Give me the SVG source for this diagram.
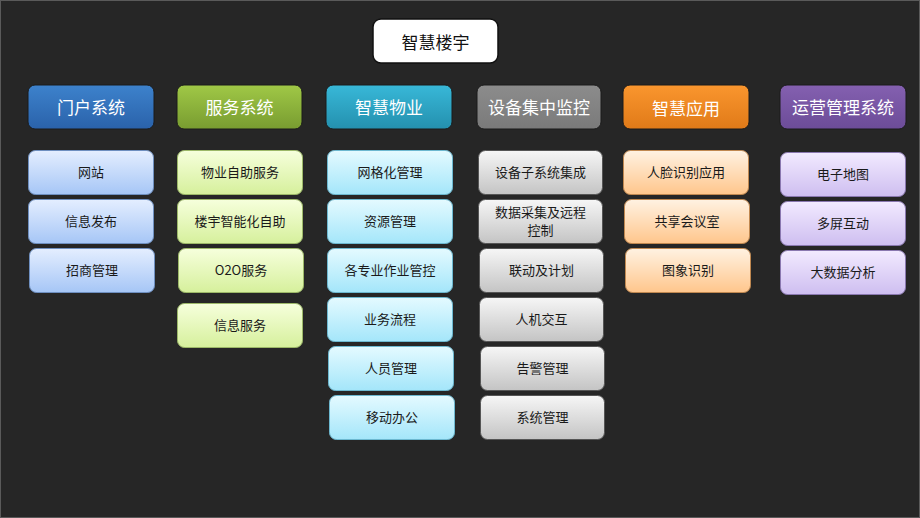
<svg xmlns="http://www.w3.org/2000/svg" width="920" height="518" viewBox="0 0 920 518">
<defs>
<linearGradient id="hBlue" x1="0" y1="0" x2="0" y2="1"><stop offset="0" stop-color="#3d82cc"/><stop offset="1" stop-color="#2a62aa"/></linearGradient>
<linearGradient id="hGreen" x1="0" y1="0" x2="0" y2="1"><stop offset="0" stop-color="#a0c846"/><stop offset="1" stop-color="#789c30"/></linearGradient>
<linearGradient id="hCyan" x1="0" y1="0" x2="0" y2="1"><stop offset="0" stop-color="#38b8d8"/><stop offset="1" stop-color="#2490ae"/></linearGradient>
<linearGradient id="hGray" x1="0" y1="0" x2="0" y2="1"><stop offset="0" stop-color="#8c8c8c"/><stop offset="1" stop-color="#7a7a7a"/></linearGradient>
<linearGradient id="hOrange" x1="0" y1="0" x2="0" y2="1"><stop offset="0" stop-color="#fa962e"/><stop offset="1" stop-color="#e07a18"/></linearGradient>
<linearGradient id="hPurple" x1="0" y1="0" x2="0" y2="1"><stop offset="0" stop-color="#8460b0"/><stop offset="1" stop-color="#6c4c98"/></linearGradient>
<linearGradient id="cBlue" x1="0" y1="0" x2="0" y2="1"><stop offset="0" stop-color="#e4eeff"/><stop offset="1" stop-color="#a6c6f6"/></linearGradient>
<linearGradient id="cGreen" x1="0" y1="0" x2="0" y2="1"><stop offset="0" stop-color="#f6ffdc"/><stop offset="1" stop-color="#d6f09c"/></linearGradient>
<linearGradient id="cCyan" x1="0" y1="0" x2="0" y2="1"><stop offset="0" stop-color="#e4faff"/><stop offset="1" stop-color="#a4e6fa"/></linearGradient>
<linearGradient id="cGray" x1="0" y1="0" x2="0" y2="1"><stop offset="0" stop-color="#f6f6f6"/><stop offset="1" stop-color="#c4c4c4"/></linearGradient>
<linearGradient id="cOrange" x1="0" y1="0" x2="0" y2="1"><stop offset="0" stop-color="#fff2e2"/><stop offset="1" stop-color="#ffc68c"/></linearGradient>
<linearGradient id="cPurple" x1="0" y1="0" x2="0" y2="1"><stop offset="0" stop-color="#f2eaff"/><stop offset="1" stop-color="#cebef0"/></linearGradient>
</defs>
<style>
text{font-family:"Microsoft YaHei","Noto Sans CJK SC","Noto Sans",sans-serif;text-anchor:middle;dominant-baseline:central}
.h text{fill:#ffffff;font-size:17px}
.c text{fill:#1a1a1a;font-size:13px}
.h rect{stroke:#1a1a1a;stroke-width:1}
.c rect{stroke-width:1}
.b rect{fill:url(#cBlue);stroke:#6e8fc0}
.g rect{fill:url(#cGreen);stroke:#9cb868}
.y rect{fill:url(#cCyan);stroke:#6cb8d0}
.a rect{fill:url(#cGray);stroke:#555}
.o rect{fill:url(#cOrange);stroke:#c08850}
.p rect{fill:url(#cPurple);stroke:#8a78b0}
</style>
<rect x="0" y="0" width="920" height="518" fill="#262626"/>
<rect x="0.5" y="0.5" width="919" height="517" fill="none" stroke="#5a5a5a" stroke-width="1"/>
<g id="connectors"/>
<g id="root"><rect x="373" y="19" width="125" height="44" rx="8" fill="#ffffff" stroke="#111" stroke-width="1.5"/><text x="435.5" y="41" font-size="17" fill="#111">智慧楼宇</text></g>

<g class="h">
<g id="h1"><rect x="28" y="85" width="126" height="44" rx="7" fill="url(#hBlue)"/><text x="91" y="106">门户系统</text></g>
<g id="h2"><rect x="177" y="85" width="125" height="44" rx="7" fill="url(#hGreen)"/><text x="239.5" y="106">服务系统</text></g>
<g id="h3"><rect x="326" y="85" width="126" height="44" rx="7" fill="url(#hCyan)"/><text x="389" y="106">智慧物业</text></g>
<g id="h4"><rect x="477" y="85" width="124" height="44" rx="7" fill="url(#hGray)"/><text x="539" y="106">设备集中监控</text></g>
<g id="h5"><rect x="623" y="85" width="126" height="44" rx="7" fill="url(#hOrange)"/><text x="686" y="107">智慧应用</text></g>
<g id="h6"><rect x="780" y="85" width="126" height="44" rx="7" fill="url(#hPurple)"/><text x="843" y="106">运营管理系统</text></g>
</g>

<g class="c b">
<g id="b1"><rect x="28.5" y="150.5" width="125" height="44" rx="7"/><text x="91" y="171">网站</text></g>
<g id="b2"><rect x="28.5" y="199.5" width="125" height="44" rx="7"/><text x="91" y="220">信息发布</text></g>
<g id="b3"><rect x="29.5" y="248.5" width="125" height="44" rx="7"/><text x="92" y="269">招商管理</text></g>
</g>
<g class="c g">
<g id="g1"><rect x="177.5" y="150.5" width="125" height="44" rx="7"/><text x="240" y="171">物业自助服务</text></g>
<g id="g2"><rect x="177.5" y="199.5" width="125" height="44" rx="7"/><text x="240" y="220">楼宇智能化自助</text></g>
<g id="g3"><rect x="178.5" y="248.5" width="125" height="44" rx="7"/><text x="241" y="269">O2O服务</text></g>
<g id="g4"><rect x="177.5" y="303.5" width="125" height="44" rx="7"/><text x="240" y="324">信息服务</text></g>
</g>
<g class="c y">
<g id="y1"><rect x="327.5" y="150.5" width="125" height="44" rx="7"/><text x="390" y="171">网格化管理</text></g>
<g id="y2"><rect x="327.5" y="199.5" width="125" height="44" rx="7"/><text x="390" y="220">资源管理</text></g>
<g id="y3"><rect x="327.5" y="248.5" width="125" height="44" rx="7"/><text x="390" y="269">各专业作业管控</text></g>
<g id="y4"><rect x="327.5" y="297.5" width="125" height="44" rx="7"/><text x="390" y="318">业务流程</text></g>
<g id="y5"><rect x="328.5" y="346.5" width="125" height="44" rx="7"/><text x="391" y="367">人员管理</text></g>
<g id="y6"><rect x="329.5" y="395.5" width="125" height="44" rx="7"/><text x="392" y="416">移动办公</text></g>
</g>
<g class="c a">
<g id="a1"><rect x="478.5" y="150.5" width="124" height="44" rx="7"/><text x="540.5" y="171">设备子系统集成</text></g>
<g id="a2"><rect x="478.5" y="199.5" width="124" height="44" rx="7"/><text x="540.5" y="211">数据采集及远程</text><text x="540.5" y="229">控制</text></g>
<g id="a3"><rect x="479.5" y="248.5" width="124" height="44" rx="7"/><text x="541.5" y="269">联动及计划</text></g>
<g id="a4"><rect x="479.5" y="297.5" width="124" height="44" rx="7"/><text x="541.5" y="318">人机交互</text></g>
<g id="a5"><rect x="480.5" y="346.5" width="124" height="44" rx="7"/><text x="542.5" y="367">告警管理</text></g>
<g id="a6"><rect x="480.5" y="395.5" width="124" height="44" rx="7"/><text x="542.5" y="416">系统管理</text></g>
</g>
<g class="c o">
<g id="o1"><rect x="623.5" y="150.5" width="125" height="44" rx="7"/><text x="686" y="171">人脸识别应用</text></g>
<g id="o2"><rect x="624.5" y="199.5" width="125" height="44" rx="7"/><text x="687" y="220">共享会议室</text></g>
<g id="o3"><rect x="625.5" y="248.5" width="125" height="44" rx="7"/><text x="688" y="269">图象识别</text></g>
</g>
<g class="c p">
<g id="p1"><rect x="780.5" y="152.5" width="125" height="44" rx="7"/><text x="843" y="173">电子地图</text></g>
<g id="p2"><rect x="780.5" y="201.5" width="125" height="44" rx="7"/><text x="843" y="222">多屏互动</text></g>
<g id="p3"><rect x="780.5" y="250.5" width="125" height="44" rx="7"/><text x="843" y="271">大数据分析</text></g>
</g>
</svg>
